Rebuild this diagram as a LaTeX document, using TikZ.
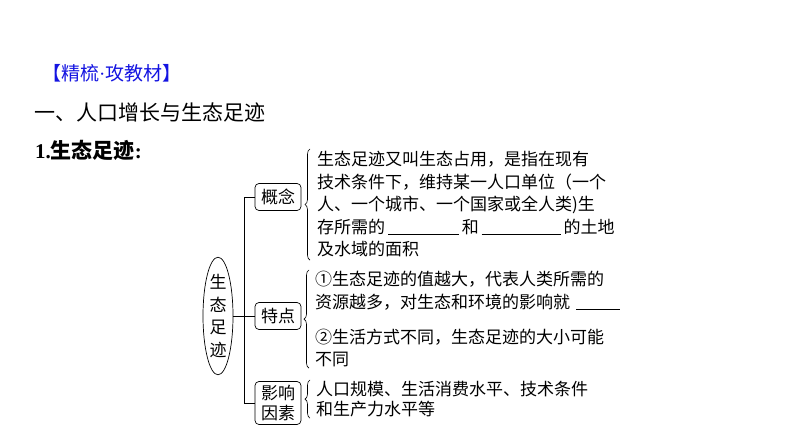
\documentclass[tikz,border=0pt]{standalone}
\usepackage{fontspec}
\setmainfont{Noto Sans CJK SC}
\newfontfamily\latinserif{Liberation Serif}
\usetikzlibrary{shapes.geometric,decorations.pathreplacing,positioning}
\definecolor{titleblue}{RGB}{20,20,225}
\tikzset{
  lbl/.style={inner sep=0pt, font=\fontsize{17}{22.5}\selectfont},
  block/.style={lbl, align=left, anchor=north west},
  kbox/.style={draw, rounded corners=4pt, inner sep=0pt, minimum width=46pt, minimum height=27pt, font=\fontsize{17}{20}\selectfont, line width=0.7pt},
  kuohao/.style={decorate, decoration={brace, amplitude=5pt}, line width=0.6pt},
  link/.style={line width=0.7pt}
}

\begin{document}
\begin{tikzpicture}[x=1pt,y=-1pt]
    \useasboundingbox (0,0) rectangle (794,446);
    % headings
    \node[anchor=west, inner sep=0pt, text=titleblue, font=\fontsize{19}{22}\selectfont] (tag) at (42,73) {【精梳{\latinserif ·}攻教材】};
    \node[anchor=west, inner sep=0pt, font=\fontsize{21}{24}\selectfont] (sec) at (34,112) {一、人口增长与生态足迹};
    \node[anchor=west, inner sep=0pt, font=\fontsize{21}{24}\selectfont\bfseries] (sub) at (35,150) {{\latinserif 1.}生态足迹{\latinserif :}};

    % root and branch boxes
    \node[draw, ellipse, lbl, align=center, minimum width=30pt, minimum height=108pt, line width=0.7pt] (root) at (218,316) {生\\态\\足\\迹};
    \node[kbox] (gn) at (278,197) {概念};
    \node[kbox] (td) at (278,316) {特点};
    \node[kbox, minimum height=43pt, align=center] (yx) at (278,403) {影响\\因素};

    \draw[link] (gn.west) -- ++(-10,0) |- (yx.west);
    \draw[link] (root.east) -- (td.west);

    % contents
    \node[block] (gnt) at (317,151) {生态足迹又叫生态占用，是指在现有\\技术条件下，维持某一人口单位（一个\\人、一个城市、一个国家或全人类)生\\存所需的\,\underline{\hspace{71pt}}\,和\,\underline{\hspace{79pt}}\,的土地\\及水域的面积};
    \node[block] (tdt) at (315,271) {①生态足迹的值越大，代表人类所需的\\资源越多，对生态和环境的影响就\hspace{6pt}\underline{\hspace{44pt}}\\[12.5pt]②生活方式不同，生态足迹的大小可能\\不同};
    \node[block, font=\fontsize{17}{20}\selectfont] (yxt) at (316,381) {人口规模、生活消费水平、技术条件\\和生产力水平等};

    % braces
    \draw[kuohao] ([xshift=-7pt,yshift=-3pt]gnt.south west) -- ([xshift=-7pt,yshift=2pt]gnt.north west);
    \draw[kuohao] ([xshift=-6pt,yshift=-1pt]tdt.south west) -- ([xshift=-6pt,yshift=1pt]tdt.north west);
    \draw[kuohao] ([xshift=-6pt,yshift=-1pt]yxt.south west) -- ([xshift=-6pt,yshift=1pt]yxt.north west);
\end{tikzpicture}
\end{document}
